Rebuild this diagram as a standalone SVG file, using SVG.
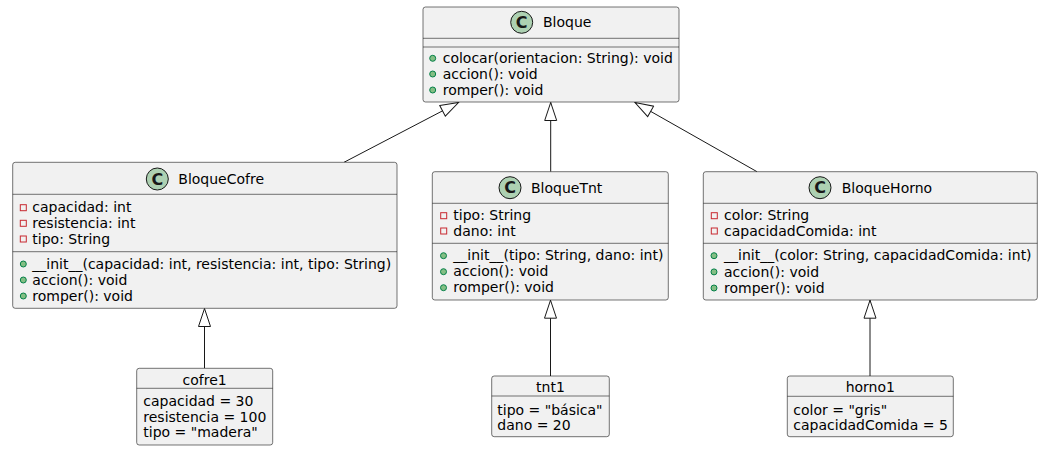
<svg xmlns="http://www.w3.org/2000/svg" width="1045" height="453" viewBox="0 0 1045 453">
<style>
text{font-family:"DejaVu Sans",Verdana,sans-serif;font-size:14px;fill:#000}
.box{fill:#F1F1F1;stroke:#181818;stroke-width:0.6}
.sep{stroke:#181818;stroke-width:0.6}
.ci{fill:#ADD1B2;stroke:#181818;stroke-width:1}
.cl{font-weight:bold;font-size:16px;fill:#181818;text-anchor:middle}
.pv{fill:none;stroke:#C82930;stroke-width:1}
.pb{fill:#84BE84;stroke:#038048;stroke-width:1}
.mid{text-anchor:middle}
.edge{stroke:#181818;stroke-width:1;fill:none;marker-end:url(#ext)}
</style>
<defs>
<marker id="ext" markerUnits="userSpaceOnUse" markerWidth="20" markerHeight="14" viewBox="0 0 20 14" refX="19" refY="7" orient="auto">
<path d="M1,1 L19,7 L1,13 Z" fill="#FFFFFF" stroke="#181818" stroke-width="1"/>
</marker>
</defs>
<rect width="1045" height="453" fill="#FFFFFF"/>
<g id="connectors">
<line class="edge" x1="344" y1="162.3" x2="458.5" y2="102.5"/>
<line class="edge" x1="550.7" y1="171.7" x2="550.7" y2="102.5"/>
<line class="edge" x1="757" y1="171.7" x2="635" y2="102.5"/>
<line class="edge" x1="204.5" y1="368.3" x2="204.5" y2="308.5"/>
<line class="edge" x1="550.5" y1="376" x2="550.5" y2="300.2"/>
<line class="edge" x1="870" y1="376" x2="870" y2="300.2"/>
</g>
<g id="Bloque">
<rect class="box" x="423" y="7" width="256" height="95" rx="2.5"/>
<line class="sep" x1="423" y1="38.3" x2="679" y2="38.3"/>
<line class="sep" x1="423" y1="47" x2="679" y2="47"/>
<circle class="ci" cx="521.7" cy="22.3" r="11"/>
<text class="cl" x="521.7" y="28">C</text>
<text x="543" y="27">Bloque</text>
<circle class="pb" cx="432.7" cy="58.3" r="3"/>
<circle class="pb" cx="432.7" cy="74" r="3"/>
<circle class="pb" cx="432.7" cy="90" r="3"/>
<text x="442.7" y="63">colocar(orientacion: String): void</text>
<text x="442.7" y="78.7">accion(): void</text>
<text x="442.7" y="94.7">romper(): void</text>
</g>
<g id="BloqueCofre">
<rect class="box" x="12.7" y="162.3" width="384.3" height="146" rx="2.5"/>
<line class="sep" x1="12.7" y1="194.3" x2="397" y2="194.3"/>
<line class="sep" x1="12.7" y1="251.7" x2="397" y2="251.7"/>
<circle class="ci" cx="157.3" cy="179" r="11"/>
<text class="cl" x="157.3" y="184.7">C</text>
<text x="178.3" y="184">BloqueCofre</text>
<rect class="pv" x="20.3" y="204.7" width="6" height="6"/>
<rect class="pv" x="20.3" y="220.3" width="6" height="6"/>
<rect class="pv" x="20.3" y="236" width="6" height="6"/>
<text x="32.3" y="212.4">capacidad: int</text>
<text x="32.3" y="228">resistencia: int</text>
<text x="32.3" y="243.7">tipo: String</text>
<circle class="pb" cx="23.3" cy="264" r="3"/>
<circle class="pb" cx="23.3" cy="280" r="3"/>
<circle class="pb" cx="23.3" cy="296" r="3"/>
<text x="32.3" y="268.7">__init__(capacidad: int, resistencia: int, tipo: String)</text>
<text x="32.3" y="284.7">accion(): void</text>
<text x="32.3" y="300.7">romper(): void</text>
</g>
<g id="BloqueTnt">
<rect class="box" x="432.3" y="171.7" width="236" height="128.3" rx="2.5"/>
<line class="sep" x1="432.3" y1="203.3" x2="668.3" y2="203.3"/>
<line class="sep" x1="432.3" y1="243.3" x2="668.3" y2="243.3"/>
<circle class="ci" cx="510" cy="187.7" r="11"/>
<text class="cl" x="510" y="193.4">C</text>
<text x="531" y="192.5">BloqueTnt</text>
<rect class="pv" x="440.7" y="212.7" width="6" height="6"/>
<rect class="pv" x="440.7" y="228" width="6" height="6"/>
<text x="453.3" y="220.4">tipo: String</text>
<text x="453.3" y="235.7">dano: int</text>
<circle class="pb" cx="443.5" cy="255.7" r="3"/>
<circle class="pb" cx="443.5" cy="271.7" r="3"/>
<circle class="pb" cx="443.5" cy="287.7" r="3"/>
<text x="453.3" y="260.4">__init__(tipo: String, dano: int)</text>
<text x="453.3" y="276.4">accion(): void</text>
<text x="453.3" y="292.4">romper(): void</text>
</g>
<g id="BloqueHorno">
<rect class="box" x="703.3" y="171.7" width="334" height="128.3" rx="2.5"/>
<line class="sep" x1="703.3" y1="203.3" x2="1037.3" y2="203.3"/>
<line class="sep" x1="703.3" y1="243.3" x2="1037.3" y2="243.3"/>
<circle class="ci" cx="820" cy="187.7" r="11"/>
<text class="cl" x="820" y="193.4">C</text>
<text x="841.7" y="192.5">BloqueHorno</text>
<rect class="pv" x="711.3" y="212.7" width="6" height="6"/>
<rect class="pv" x="711.3" y="228" width="6" height="6"/>
<text x="724" y="220.4">color: String</text>
<text x="724" y="235.7">capacidadComida: int</text>
<circle class="pb" cx="714" cy="255.7" r="3"/>
<circle class="pb" cx="714" cy="271.9" r="3"/>
<circle class="pb" cx="714" cy="288" r="3"/>
<text x="724" y="260.4">__init__(color: String, capacidadComida: int)</text>
<text x="724" y="276.6">accion(): void</text>
<text x="724" y="292.7">romper(): void</text>
</g>
<g id="cofre1">
<rect class="box" x="136.7" y="368.3" width="136" height="76.7" rx="2.5"/>
<line class="sep" x1="136.7" y1="388.3" x2="272.7" y2="388.3"/>
<text class="mid" x="204.7" y="384.7">cofre1</text>
<text x="143.3" y="406.4">capacidad = 30</text>
<text x="143.3" y="422">resistencia = 100</text>
<text x="143.3" y="437.4">tipo = "madera"</text>
</g>
<g id="tnt1">
<rect class="box" x="491.7" y="376" width="117.6" height="60.7" rx="2.5"/>
<line class="sep" x1="491.7" y1="396" x2="609.3" y2="396"/>
<text class="mid" x="550.5" y="392">tnt1</text>
<text x="497.3" y="414.5">tipo = "básica"</text>
<text x="497.3" y="429.8">dano = 20</text>
</g>
<g id="horno1">
<rect class="box" x="787.3" y="376" width="166" height="60.7" rx="2.5"/>
<line class="sep" x1="787.3" y1="396.3" x2="953.3" y2="396.3"/>
<text class="mid" x="870.3" y="392">horno1</text>
<text x="793.3" y="414.5">color = "gris"</text>
<text x="793.3" y="429.8">capacidadComida = 5</text>
</g>
</svg>
